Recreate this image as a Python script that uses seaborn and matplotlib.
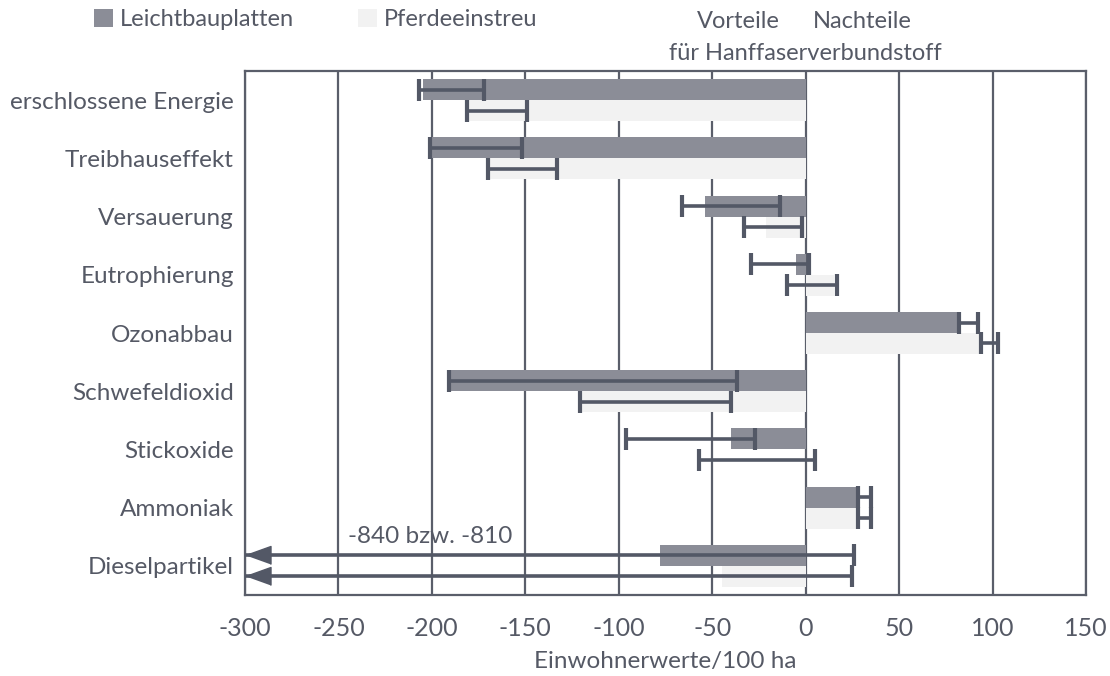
import matplotlib
matplotlib.use("Agg")
import matplotlib.pyplot as plt
import pandas as pd
import seaborn as sns
from matplotlib.transforms import blended_transform_factory

categories = [
    "erschlossene Energie",
    "Treibhauseffekt",
    "Versauerung",
    "Eutrophierung",
    "Ozonabbau",
    "Schwefeldioxid",
    "Stickoxide",
    "Ammoniak",
    "Dieselpartikel",
]
series = ["Leichtbauplatten", "Pferdeeinstreu"]

# bar values and error ranges (low / high end), Einwohnerwerte/100 ha
leicht = [-205, -200, -54, -5, 83, -190, -40, 28, -78]
leicht_lo = [-207, -201, -66, -29, 82, -191, -96, 28, -840]
leicht_hi = [-172, -152, -14, 2, 92, -37, -27, 35, 26]

pferd = [-181, -169, -21, 15, 95, -120, 0, 28, -45]
pferd_lo = [-181, -170, -33, -10, 94, -121, -57, 28, -810]
pferd_hi = [-149, -133, -2, 17, 103, -40, 5, 35, 25]

xticks = [-300, -250, -200, -150, -100, -50, 0, 50, 100, 150]

df = pd.DataFrame(
    {
        "Kategorie": categories * 2,
        "Wert": leicht + pferd,
        "Material": [series[0]] * len(categories) + [series[1]] * len(categories),
    }
)

sns.set_style("white")
plt.rcParams["font.family"] = ["Lato", "DejaVu Sans"]
plt.rcParams["axes.unicode_minus"] = False

text_col = "#555965"
line_col = "#5a5e6a"
err_col = "#535866"

fig = plt.figure(figsize=(11.1, 6.76), dpi=100)
ax = fig.add_axes([245 / 1110, 1 - 595 / 676, (1086 - 245) / 1110, (595 - 71) / 676])

sns.barplot(
    data=df,
    y="Kategorie",
    x="Wert",
    hue="Material",
    order=categories,
    hue_order=series,
    palette=["#8b8d97", "#f2f2f2"],
    saturation=1,
    width=0.72,
    orient="h",
    errorbar=None,
    linewidth=0,
    ax=ax,
    zorder=2,
)

for cont, vals, lows, highs in zip(
    ax.containers, [leicht, pferd], [leicht_lo, pferd_lo], [leicht_hi, pferd_hi]
):
    for bar, v, lo, hi in zip(cont, vals, lows, highs):
        yc = bar.get_y() + bar.get_height() / 2
        ax.errorbar(
            v, yc, xerr=[[v - lo], [hi - v]], fmt="none", ecolor=err_col,
            elinewidth=2.6, capsize=8, capthick=3, zorder=4,
        )
        if lo < xticks[0]:
            # value off the scale: arrow head at the left edge
            ax.plot(xticks[0] + 6.7, yc, marker=[(-1, 0), (1, 0.72), (1, -0.72)],
                    ms=18, color=err_col, clip_on=False, zorder=5)

ax.text(-245, 7.5, "-840 bzw. -810", ha="left", va="center", fontsize=17.5, color=text_col)

ax.set_xlim(-300, 150)
ax.set_ylim(len(categories) - 0.5, -0.5)
ax.set_xticks(xticks)
ax.grid(axis="x", color=line_col, lw=1.6)
ax.set_axisbelow(True)
for sp in ax.spines.values():
    sp.set_color(line_col)
    sp.set_linewidth(1.6)
ax.tick_params(axis="x", direction="out", length=6, width=1.6, color=line_col,
               labelsize=18, labelcolor=text_col, pad=10)
ax.tick_params(axis="y", length=0, labelsize=17.5, labelcolor=text_col, pad=8)
ax.set_ylabel("")
ax.set_xlabel("Einwohnerwerte/100 ha", fontsize=17.5, color=text_col, labelpad=8)

trans = blended_transform_factory(ax.transData, ax.transAxes)
ax.text(-14, 1.095, "Vorteile", ha="right", va="center", fontsize=17, color=text_col, transform=trans)
ax.text(4, 1.095, "Nachteile", ha="left", va="center", fontsize=17, color=text_col, transform=trans)
ax.text(0, 1.033, "für Hanffaserverbundstoff", ha="center", va="center", fontsize=17,
        color=text_col, transform=trans)

handles, labels = ax.get_legend_handles_labels()
ax.get_legend().remove()
fig.legend(
    handles, labels, loc="upper left", bbox_to_anchor=(94 / 1110, 1 - 9 / 676),
    ncol=2, frameon=False, fontsize=17, labelcolor=text_col,
    handlelength=0.8, handleheight=0.8, handletextpad=0.3, columnspacing=2.7,
    borderaxespad=0, borderpad=0,
)

fig.savefig("out.png", dpi=100)
